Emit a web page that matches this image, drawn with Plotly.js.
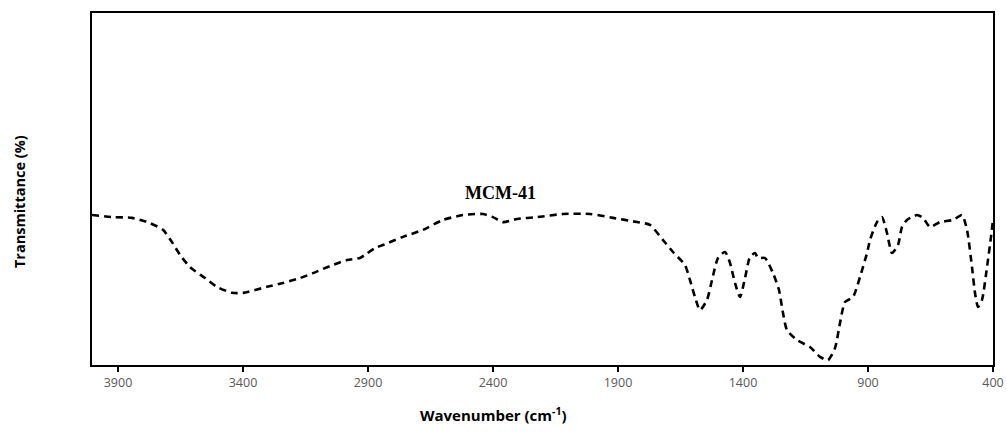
<!DOCTYPE html>
<html>
<head>
<meta charset="utf-8">
<script src="https://cdn.plot.ly/plotly-3.0.1.min.js"></script>
<style>html,body{margin:0;padding:0;background:#fff;}#chart{width:1007px;height:432px;}</style>
</head>
<body>
<div id="chart"></div>
<script>
const wavenumber = [4004,3920,3844,3772,3720,3684,3652,3612,3552,3504,3444,3400,3304,3240,3172,3120,3052,2984,2932,2912,2872,2840,2760,2680,2600,2520,2440,2400,2360,2304,2224,2120,2012,1920,1824,1772,1720,1680,1632,1612,1592,1572,1544,1524,1500,1472,1452,1432,1412,1392,1372,1352,1340,1312,1280,1256,1240,1224,1184,1132,1092,1060,1032,1012,992,960,932,904,892,864,844,824,804,780,764,744,704,680,652,612,560,524,504,484,472,460,444,424,408,400];
const transmittance = [42.6,42.0,41.8,40.3,38.4,34.9,31.3,27.8,24.7,22.2,20.5,20.5,22.2,23.3,24.7,26.1,28.1,29.8,30.4,31.3,33.2,34.1,36.4,38.4,41.2,42.6,42.9,42.0,40.6,41.5,42.0,42.9,42.9,41.8,40.6,39.8,35.5,32.1,28.4,24.1,19.3,15.6,18.5,24.1,30.4,32.1,29.0,23.3,19.3,24.7,30.7,31.8,30.4,30.4,26.1,21.3,14.8,9.9,7.1,5.1,2.3,1.4,4.8,11.9,17.9,19.3,25.0,31.8,35.5,40.6,42.0,37.5,31.8,34.1,39.2,41.2,42.6,41.8,39.2,40.6,41.2,42.6,38.4,27.8,20.5,16.5,18.5,27.8,36.4,41.2];
const tickValues = [3900,3400,2900,2400,1900,1400,900,400];
const seriesLabel = "MCM-41";
const labelPos = [2370, 48.9];

const trace = {
  x: wavenumber, y: transmittance, type: 'scatter', mode: 'lines',
  line: {color: '#000', width: 2.6, dash: '7px,5px', shape: 'spline', smoothing: 0.6},
  hoverinfo: 'skip', showlegend: false
};
const layout = {
  width: 1007, height: 432,
  margin: {l: 92, r: 14, t: 13, b: 67},
  paper_bgcolor: '#fff', plot_bgcolor: '#fff',
  xaxis: {
    range: [4004, 400], tickvals: tickValues, ticktext: tickValues.map(String),
    ticks: 'outside', ticklen: 5, tickwidth: 1.5, tickcolor: '#000',
    showline: true, linecolor: '#000', linewidth: 2, mirror: true,
    showgrid: false, zeroline: false,
    tickfont: {family: 'Open Sans, sans-serif', size: 12.5, color: '#595959'}
  },
  yaxis: {
    range: [0, 100], showticklabels: false, ticks: '',
    showline: true, linecolor: '#000', linewidth: 2, mirror: true,
    showgrid: false, zeroline: false
  },
  annotations: [
    {text: seriesLabel, x: labelPos[0], y: labelPos[1], xref: 'x', yref: 'y', showarrow: false,
     font: {family: 'Liberation Serif, Times New Roman, serif', size: 18, color: '#000', weight: 'bold'}},
    {text: '<b>Wavenumber (cm<sup>-1</sup>)</b>', x: 0.445, y: -0.142, xref: 'paper', yref: 'paper',
     xanchor: 'center', yanchor: 'middle', showarrow: false,
     font: {family: 'Open Sans, sans-serif', size: 15, color: '#000'}},
    {text: '<b>Transmittance (%)</b>', x: -0.081, y: 0.463, xref: 'paper', yref: 'paper', textangle: -90,
     xanchor: 'center', yanchor: 'middle', showarrow: false,
     font: {family: 'Open Sans, sans-serif', size: 14.5, color: '#000'}}
  ]
};
Plotly.newPlot('chart', [trace], layout, {displayModeBar: false, staticPlot: true});
</script>
</body>
</html>
